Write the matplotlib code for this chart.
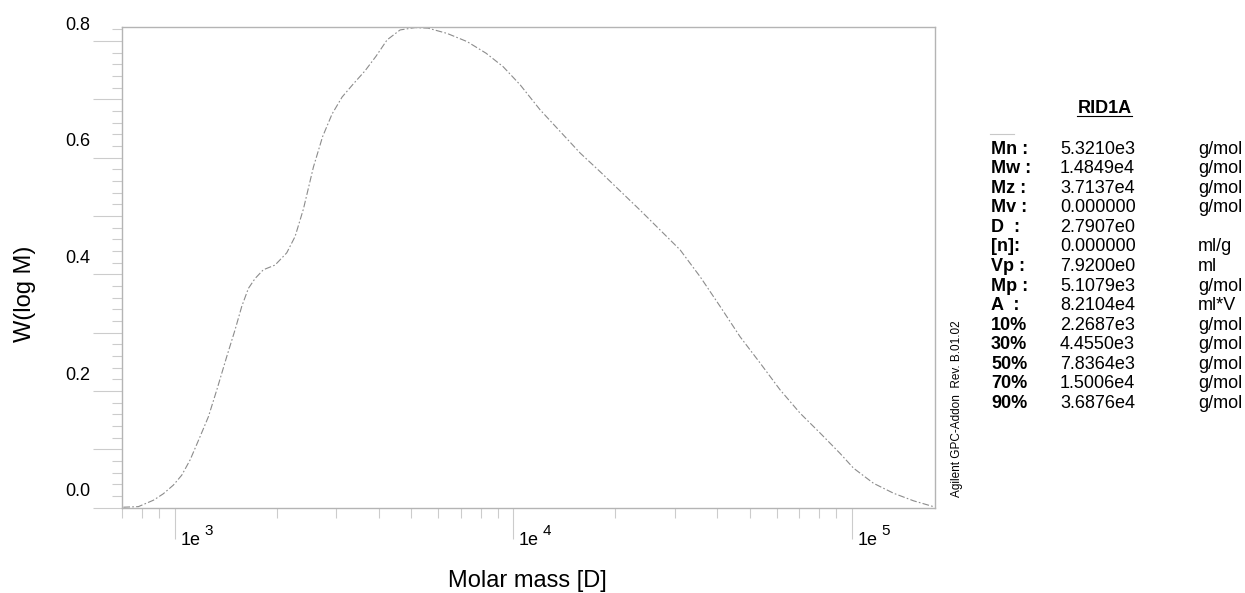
import matplotlib
matplotlib.use("Agg")
import matplotlib.pyplot as plt
from matplotlib.lines import Line2D
from matplotlib.ticker import MultipleLocator, LogLocator, NullFormatter, FuncFormatter
from matplotlib.transforms import ScaledTranslation

# molar mass distribution
molar_mass = [705, 781, 865, 925, 991, 1049, 1110, 1188, 1257, 1331,
              1424, 1507, 1577, 1650, 1727, 1827, 1978, 2142, 2267, 2399,
              2568, 2733, 2916, 3121, 3363, 3649, 3932, 4239, 4631, 5128,
              5602, 6375, 7303, 8313, 9331, 10474, 12001, 13750, 15755, 18050,
              20680, 23695, 27150, 31100, 35630, 40830, 46770, 53590, 61400, 70350,
              80610, 92360, 101090, 115830, 132720, 152050, 174180]
w_log_m = [0.001, 0.002, 0.013, 0.024, 0.039, 0.056, 0.082, 0.122, 0.156, 0.202,
           0.259, 0.305, 0.345, 0.376, 0.393, 0.408, 0.416, 0.437, 0.465, 0.512,
           0.584, 0.636, 0.675, 0.704, 0.726, 0.749, 0.774, 0.802, 0.819, 0.823,
           0.822, 0.813, 0.799, 0.779, 0.756, 0.725, 0.682, 0.645, 0.608, 0.576,
           0.543, 0.510, 0.476, 0.442, 0.396, 0.345, 0.293, 0.248, 0.202, 0.162,
           0.128, 0.093, 0.068, 0.042, 0.025, 0.012, 0.002]

xtick_exponents = [3, 4, 5]

stat_names = ["Mn :", "Mw :", "Mz :", "Mv :", "D  :", "[n]:", "Vp :", "Mp :",
              "A  :", "10%", "30%", "50%", "70%", "90%"]
stat_values = ["5.3210e3", "1.4849e4", "3.7137e4", "0.000000", "2.7907e0",
               "0.000000", "7.9200e0", "5.1079e3", "8.2104e4", "2.2687e3",
               "4.4550e3", "7.8364e3", "1.5006e4", "3.6876e4"]
stat_units = ["g/mol", "g/mol", "g/mol", "g/mol", "", "ml/g", "ml", "g/mol",
              "ml*V", "g/mol", "g/mol", "g/mol", "g/mol", "g/mol"]

plt.rcParams["font.family"] = ["Liberation Sans", "DejaVu Sans"]

W, H = 1245, 593
fig = plt.figure(figsize=(W / 100, H / 100), dpi=100)
ax = fig.add_axes([122.3 / W, 1 - 507.8 / H, (935 - 122.3) / W, (507.8 - 27.3) / H])

ax.plot(molar_mass, w_log_m, color="#8c8c8c", lw=0.8, ls=(0, (6, 2, 1.5, 2)))

ax.set_xscale("log")
ax.set_xlim(700, 176000)
ax.set_ylim(0, 0.8235)

for side in ["left", "right", "top", "bottom"]:
    ax.spines[side].set_color("#b4b4b4")
    ax.spines[side].set_linewidth(1.0)

# y axis: long ticks every 0.1, labels every 0.2, short ticks every 0.02
ax.yaxis.set_major_locator(MultipleLocator(0.1))
ax.yaxis.set_minor_locator(MultipleLocator(0.02))
ax.yaxis.set_major_formatter(FuncFormatter(lambda v, p: f"{v:.1f}" if round(v * 10) % 2 == 0 else ""))
ax.tick_params(axis="y", which="major", length=21, width=0.8, color="#cccccc", pad=2, labelsize=13)
ax.tick_params(axis="y", which="minor", length=7.2, width=0.8, color="#cccccc")

# x axis: log decades
ax.xaxis.set_major_locator(LogLocator(base=10, numticks=10))
ax.xaxis.set_minor_locator(LogLocator(base=10, subs=range(2, 10), numticks=10))
ax.xaxis.set_major_formatter(NullFormatter())
ax.xaxis.set_minor_formatter(NullFormatter())
ax.tick_params(axis="x", which="major", length=22, width=0.8, color="#cccccc")
ax.tick_params(axis="x", which="minor", length=7.2, width=0.8, color="#cccccc")

# the instrument software draws y labels above their ticks
for lab in ax.get_yticklabels():
    lab.set_transform(lab.get_transform() + ScaledTranslation(0, 0.18, fig.dpi_scale_trans))

for e in xtick_exponents:
    t1 = ax.get_xaxis_transform() + ScaledTranslation(0.055, -0.372, fig.dpi_scale_trans)
    ax.text(10 ** e, 0, "1e", ha="left", va="baseline", fontsize=13, transform=t1)
    t2 = ax.get_xaxis_transform() + ScaledTranslation(0.293, -0.273, fig.dpi_scale_trans)
    ax.text(10 ** e, 0, str(e), ha="left", va="baseline", fontsize=11, transform=t2)

fig.text(527.5 / W, 1 - 586.5 / H, "Molar mass [D]", ha="center", va="baseline", fontsize=17)
fig.text(25 / W, 1 - 294 / H, "W(log M)", ha="center", va="center", rotation=90, fontsize=17)

fig.text(957 / W, 1 - 408.5 / H, "Agilent GPC-Addon  Rev. B.01.02", ha="center", va="center",
         rotation=90, fontsize=8.5)

# results panel
fig.text(1105 / W, 1 - 113 / H, "RID1A", ha="center", va="baseline", fontsize=13, fontweight="bold")
fig.add_artist(Line2D([1077 / W, 1132 / W], [1 - 116 / H, 1 - 116 / H], color="black", lw=0.8))
fig.add_artist(Line2D([990 / W, 1014 / W], [1 - 134 / H, 1 - 134 / H], color="#c8c8c8", lw=0.8))

for i, (name, val, unit) in enumerate(zip(stat_names, stat_values, stat_units)):
    yb = 1 - (153.5 + i * 19.58) / H
    fig.text(991 / W, yb, name, ha="left", va="baseline", fontsize=13, fontweight="bold")
    fig.text(1060 / W, yb, val, ha="left", va="baseline", fontsize=13)
    fig.text(1198 / W, yb, unit, ha="left", va="baseline", fontsize=13)

fig.savefig("out.png", dpi=100)
